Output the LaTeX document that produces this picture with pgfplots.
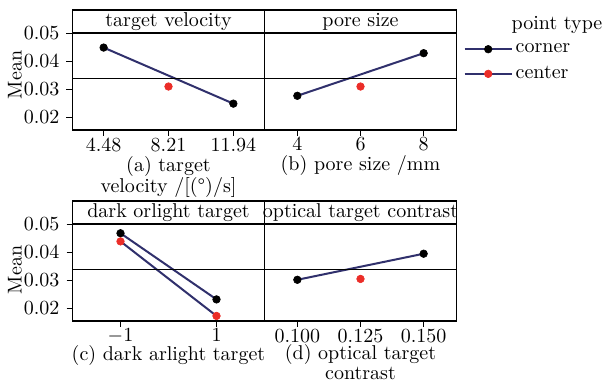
\documentclass[border=0pt]{standalone}
\usepackage{pgfplots}
\pgfplotsset{compat=1.18}
\definecolor{navy}{RGB}{48,48,108}
\definecolor{cred}{RGB}{235,45,40}
\pgfplotsset{
  panel/.style={scale only axis, width=96pt, height=48.5pt, ymin=0.0155, ymax=0.0501, clip=false,
    axis line style={line width=0.6pt}, tick style={black, line width=0.5pt}, tick align=outside,
    major tick length=3pt, xtick pos=bottom, ytick pos=left,
    ytick={0.02,0.03,0.04,0.05},
    yticklabel style={/pgf/number format/fixed, /pgf/number format/precision=2, /pgf/number format/fixed zerofill},
    scaled y ticks=false, scaled x ticks=false,
    xlabel style={align=center, yshift=4.5pt}, xticklabel style={yshift=2.5pt}},
  rpanel/.style={panel, ytick=\empty},
  corner/.style={navy, line width=1pt, mark=*, mark size=1.9pt, mark options={fill=black, draw=black, line width=0.3pt}},
  center/.style={navy, line width=1pt, mark=*, mark size=1.9pt, mark options={fill=cred, draw=cred, line width=0.3pt}},
}
\newcommand{\strip}[1]{%
  \draw[line width=0.6pt] (rel axis cs:0,1) rectangle (rel axis cs:1,1.237);
  \node at (rel axis cs:0.5,1.1185) {#1};
  \draw[line width=0.4pt] (rel axis cs:0,0.5332) -- (rel axis cs:1,0.5332);}
\begin{document}
\begin{tikzpicture}
\useasboundingbox (0,0) rectangle (302.5pt,192pt);
% (a)
\begin{axis}[panel, at={(36.25pt,127pt)}, anchor=south west, xmin=2.69, xmax=13.73,
  xtick={4.48,8.21,11.94}, xticklabels={4.48,8.21,11.94},
  ylabel={Mean}, ylabel style={at={(axis description cs:-0.30,0.567)}, anchor=center},
  xlabel={(a) target\\[-1.5pt]velocity /[(\textdegree)/s]}]
\addplot[corner] coordinates {(4.48,0.0449) (11.94,0.0249)};
\addplot[center] coordinates {(8.21,0.0310)};
\strip{target velocity}
\end{axis}
% (b)
\begin{axis}[rpanel, at={(132.25pt,127pt)}, anchor=south west, xmin=2.96, xmax=9.04,
  xtick={4,6,8}, xlabel={(b) pore size /mm},
  legend style={at={(1.025,0.95)}, anchor=north west, draw=none, fill=none, row sep=2.5pt,
    inner sep=1pt, nodes={inner sep=1.5pt}},
  legend cell align=left,
  legend image code/.code={\draw[mark repeat=2,mark phase=2,#1] plot coordinates {(0pt,0pt) (11.75pt,0pt) (23.5pt,0pt)};}]
\addplot[corner] coordinates {(4,0.0277) (8,0.0429)};
\addlegendentry{corner}
\addplot[center] coordinates {(6,0.0310)};
\addlegendentry{center}
\strip{pore size}
\end{axis}
% (c)
\begin{axis}[panel, at={(36.25pt,31.5pt)}, anchor=south west, xmin=-2, xmax=2,
  xtick={-1,1}, ylabel={Mean}, ylabel style={at={(axis description cs:-0.30,0.526)}, anchor=center},
  xlabel={(c) dark arlight target}, xlabel style={yshift=1.5pt}]
\addplot[corner] coordinates {(-1,0.0468) (1,0.0232)};
\addplot[center] coordinates {(-1,0.0439) (1,0.0173)};
\strip{dark orlight target}
\end{axis}
% (d)
\begin{axis}[rpanel, at={(132.25pt,31.5pt)}, anchor=south west, xmin=0.087, xmax=0.163,
  xtick={0.1,0.125,0.15}, xticklabels={0.100,0.125,0.150},
  xlabel={(d) optical target\\[-2pt]contrast}, xlabel style={yshift=1.5pt}]
\addplot[corner] coordinates {(0.1,0.0302) (0.15,0.0395)};
\addplot[center] coordinates {(0.125,0.0305)};
\strip{optical target contrast}
\end{axis}
\node at (278.5pt,179.5pt) {point type};
\end{tikzpicture}
\end{document}
